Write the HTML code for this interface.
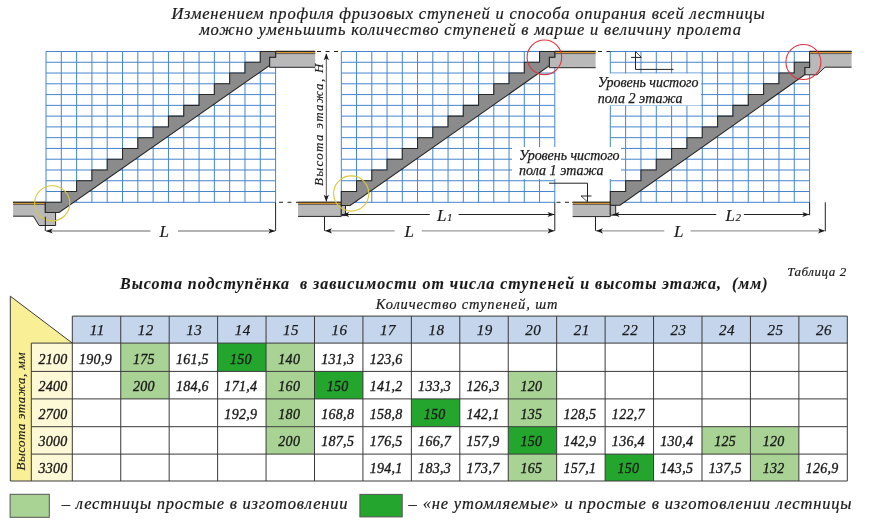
<!DOCTYPE html>
<html><head><meta charset="utf-8"><style>
html,body{margin:0;padding:0;background:#fff;width:872px;height:524px;overflow:hidden}
svg{display:block;will-change:transform}
</style></head><body>
<svg width="872" height="524" viewBox="0 0 872 524">
<rect width="872" height="524" fill="#fff"/>
<g stroke="#4585cc" stroke-width="1" fill="none">
<line x1="46" y1="51.5" x2="46" y2="202.3"/>
<line x1="61.31" y1="51.5" x2="61.31" y2="202.3"/>
<line x1="76.61" y1="51.5" x2="76.61" y2="202.3"/>
<line x1="91.92" y1="51.5" x2="91.92" y2="202.3"/>
<line x1="107.23" y1="51.5" x2="107.23" y2="202.3"/>
<line x1="122.53" y1="51.5" x2="122.53" y2="202.3"/>
<line x1="137.84" y1="51.5" x2="137.84" y2="202.3"/>
<line x1="153.15" y1="51.5" x2="153.15" y2="202.3"/>
<line x1="168.45" y1="51.5" x2="168.45" y2="202.3"/>
<line x1="183.76" y1="51.5" x2="183.76" y2="202.3"/>
<line x1="199.07" y1="51.5" x2="199.07" y2="202.3"/>
<line x1="214.37" y1="51.5" x2="214.37" y2="202.3"/>
<line x1="229.68" y1="51.5" x2="229.68" y2="202.3"/>
<line x1="244.99" y1="51.5" x2="244.99" y2="202.3"/>
<line x1="260.29" y1="51.5" x2="260.29" y2="202.3"/>
<line x1="275.6" y1="51.5" x2="275.6" y2="202.3"/>
<line x1="46" y1="51.5" x2="275.6" y2="51.5"/>
<line x1="46" y1="62.27" x2="275.6" y2="62.27"/>
<line x1="46" y1="73.04" x2="275.6" y2="73.04"/>
<line x1="46" y1="83.81" x2="275.6" y2="83.81"/>
<line x1="46" y1="94.59" x2="275.6" y2="94.59"/>
<line x1="46" y1="105.36" x2="275.6" y2="105.36"/>
<line x1="46" y1="116.13" x2="275.6" y2="116.13"/>
<line x1="46" y1="126.9" x2="275.6" y2="126.9"/>
<line x1="46" y1="137.67" x2="275.6" y2="137.67"/>
<line x1="46" y1="148.44" x2="275.6" y2="148.44"/>
<line x1="46" y1="159.21" x2="275.6" y2="159.21"/>
<line x1="46" y1="169.99" x2="275.6" y2="169.99"/>
<line x1="46" y1="180.76" x2="275.6" y2="180.76"/>
<line x1="46" y1="191.53" x2="275.6" y2="191.53"/>
<line x1="46" y1="202.3" x2="275.6" y2="202.3"/>
<line x1="341.3" y1="51.5" x2="341.3" y2="202.3"/>
<line x1="356.55" y1="51.5" x2="356.55" y2="202.3"/>
<line x1="371.8" y1="51.5" x2="371.8" y2="202.3"/>
<line x1="387.05" y1="51.5" x2="387.05" y2="202.3"/>
<line x1="402.3" y1="51.5" x2="402.3" y2="202.3"/>
<line x1="417.55" y1="51.5" x2="417.55" y2="202.3"/>
<line x1="432.8" y1="51.5" x2="432.8" y2="202.3"/>
<line x1="448.05" y1="51.5" x2="448.05" y2="202.3"/>
<line x1="463.3" y1="51.5" x2="463.3" y2="202.3"/>
<line x1="478.55" y1="51.5" x2="478.55" y2="202.3"/>
<line x1="493.8" y1="51.5" x2="493.8" y2="202.3"/>
<line x1="509.05" y1="51.5" x2="509.05" y2="202.3"/>
<line x1="524.3" y1="51.5" x2="524.3" y2="202.3"/>
<line x1="539.55" y1="51.5" x2="539.55" y2="202.3"/>
<line x1="554.8" y1="51.5" x2="554.8" y2="202.3"/>
<line x1="341.3" y1="51.5" x2="554.8" y2="51.5"/>
<line x1="341.3" y1="62.27" x2="554.8" y2="62.27"/>
<line x1="341.3" y1="73.04" x2="554.8" y2="73.04"/>
<line x1="341.3" y1="83.81" x2="554.8" y2="83.81"/>
<line x1="341.3" y1="94.59" x2="554.8" y2="94.59"/>
<line x1="341.3" y1="105.36" x2="554.8" y2="105.36"/>
<line x1="341.3" y1="116.13" x2="554.8" y2="116.13"/>
<line x1="341.3" y1="126.9" x2="554.8" y2="126.9"/>
<line x1="341.3" y1="137.67" x2="554.8" y2="137.67"/>
<line x1="341.3" y1="148.44" x2="554.8" y2="148.44"/>
<line x1="341.3" y1="159.21" x2="554.8" y2="159.21"/>
<line x1="341.3" y1="169.99" x2="554.8" y2="169.99"/>
<line x1="341.3" y1="180.76" x2="554.8" y2="180.76"/>
<line x1="341.3" y1="191.53" x2="554.8" y2="191.53"/>
<line x1="341.3" y1="202.3" x2="554.8" y2="202.3"/>
<line x1="610.3" y1="51.5" x2="610.3" y2="202.3"/>
<line x1="625.63" y1="51.5" x2="625.63" y2="202.3"/>
<line x1="640.96" y1="51.5" x2="640.96" y2="202.3"/>
<line x1="656.29" y1="51.5" x2="656.29" y2="202.3"/>
<line x1="671.62" y1="51.5" x2="671.62" y2="202.3"/>
<line x1="686.95" y1="51.5" x2="686.95" y2="202.3"/>
<line x1="702.28" y1="51.5" x2="702.28" y2="202.3"/>
<line x1="717.62" y1="51.5" x2="717.62" y2="202.3"/>
<line x1="732.95" y1="51.5" x2="732.95" y2="202.3"/>
<line x1="748.28" y1="51.5" x2="748.28" y2="202.3"/>
<line x1="763.61" y1="51.5" x2="763.61" y2="202.3"/>
<line x1="778.94" y1="51.5" x2="778.94" y2="202.3"/>
<line x1="794.27" y1="51.5" x2="794.27" y2="202.3"/>
<line x1="809.6" y1="51.5" x2="809.6" y2="202.3"/>
<line x1="610.3" y1="51.5" x2="809.6" y2="51.5"/>
<line x1="610.3" y1="62.27" x2="809.6" y2="62.27"/>
<line x1="610.3" y1="73.04" x2="809.6" y2="73.04"/>
<line x1="610.3" y1="83.81" x2="809.6" y2="83.81"/>
<line x1="610.3" y1="94.59" x2="809.6" y2="94.59"/>
<line x1="610.3" y1="105.36" x2="809.6" y2="105.36"/>
<line x1="610.3" y1="116.13" x2="809.6" y2="116.13"/>
<line x1="610.3" y1="126.9" x2="809.6" y2="126.9"/>
<line x1="610.3" y1="137.67" x2="809.6" y2="137.67"/>
<line x1="610.3" y1="148.44" x2="809.6" y2="148.44"/>
<line x1="610.3" y1="159.21" x2="809.6" y2="159.21"/>
<line x1="610.3" y1="169.99" x2="809.6" y2="169.99"/>
<line x1="610.3" y1="180.76" x2="809.6" y2="180.76"/>
<line x1="610.3" y1="191.53" x2="809.6" y2="191.53"/>
<line x1="610.3" y1="202.3" x2="809.6" y2="202.3"/>
</g>
<rect x="512" y="147" width="109" height="32" fill="#fff"/>
<rect x="590" y="73.5" width="111" height="32" fill="#fff"/>
<polygon points="13.1,202.3 45.3,202.3 45.3,212.4 55.6,212.4 55.6,225.5 39.1,225.5 33.4,216.2 13.1,216.2" fill="#b9b9b9"/>
<polyline points="13.1,202.3 45.3,202.3 45.3,212.4 55.6,212.4 55.6,225.5 39.1,225.5 33.4,216.2 13.1,216.2" fill="none" stroke="#262626" stroke-width="1"/>
<line x1="13.1" y1="202.3" x2="45.3" y2="202.3" stroke="#262626" stroke-width="1.3"/>
<line x1="13.6" y1="203.4" x2="44.8" y2="203.4" stroke="#e39b2d" stroke-width="1.1"/>
<line x1="13.1" y1="204.4" x2="45.3" y2="204.4" stroke="#444" stroke-width="0.8"/>
<polygon points="275.6,51.5 315.2,51.5 315.2,67.3 269.6,67.3 269.6,57.2 275.6,57.2" fill="#b9b9b9"/>
<polyline points="315.2,67.3 269.6,67.3 269.6,57.2 275.6,57.2 275.6,51.5 315.2,51.5" fill="none" stroke="#262626" stroke-width="1"/>
<line x1="275.6" y1="51.5" x2="315.2" y2="51.5" stroke="#262626" stroke-width="1.3"/>
<line x1="276.1" y1="52.6" x2="314.7" y2="52.6" stroke="#e39b2d" stroke-width="1.1"/>
<line x1="275.6" y1="53.6" x2="315.2" y2="53.6" stroke="#444" stroke-width="0.8"/>
<polygon points="298,202.3 341.3,202.3 341.3,216.4 298,216.4" fill="#b9b9b9"/>
<polyline points="298,202.3 341.3,202.3 341.3,216.4 298,216.4" fill="none" stroke="#262626" stroke-width="1"/>
<line x1="298" y1="202.3" x2="341.3" y2="202.3" stroke="#262626" stroke-width="1.3"/>
<line x1="298.5" y1="203.4" x2="340.8" y2="203.4" stroke="#e39b2d" stroke-width="1.1"/>
<line x1="298" y1="204.4" x2="341.3" y2="204.4" stroke="#444" stroke-width="0.8"/>
<polygon points="341.3,205.4 345.5,205.4 345.5,215.6 341.3,215.6" fill="#b9b9b9" stroke="#262626" stroke-width="1"/>
<polygon points="554.8,51.5 595.6,51.5 595.6,67.7 549.3,67.7 549.3,57.2 554.8,57.2" fill="#b9b9b9"/>
<polyline points="595.6,67.7 549.3,67.7 549.3,57.2 554.8,57.2 554.8,51.5 595.6,51.5" fill="none" stroke="#262626" stroke-width="1"/>
<line x1="554.8" y1="51.5" x2="595.6" y2="51.5" stroke="#262626" stroke-width="1.3"/>
<line x1="555.3" y1="52.6" x2="595.1" y2="52.6" stroke="#e39b2d" stroke-width="1.1"/>
<line x1="554.8" y1="53.6" x2="595.6" y2="53.6" stroke="#444" stroke-width="0.8"/>
<polygon points="572.6,202.3 610.3,202.3 610.3,216.6 572.6,216.6" fill="#b9b9b9"/>
<polyline points="572.6,202.3 610.3,202.3 610.3,216.6 572.6,216.6" fill="none" stroke="#262626" stroke-width="1"/>
<line x1="572.6" y1="202.3" x2="610.3" y2="202.3" stroke="#262626" stroke-width="1.3"/>
<line x1="573.1" y1="203.4" x2="609.8" y2="203.4" stroke="#e39b2d" stroke-width="1.1"/>
<line x1="572.6" y1="204.4" x2="610.3" y2="204.4" stroke="#444" stroke-width="0.8"/>
<polygon points="610.3,205.2 615.7,205.2 615.7,215.2 610.3,215.2" fill="#b9b9b9" stroke="#262626" stroke-width="1"/>
<polygon points="809.6,51.5 851.6,51.5 851.6,67.2 825,67.2 817,74.8 804.8,74.8 804.8,67.5 809.6,67.5" fill="#b9b9b9"/>
<polyline points="851.6,67.2 825,67.2 817,74.8 804.8,74.8 804.8,67.5 809.6,67.5 809.6,51.5 851.6,51.5" fill="none" stroke="#262626" stroke-width="1"/>
<line x1="809.6" y1="51.5" x2="851.6" y2="51.5" stroke="#262626" stroke-width="1.3"/>
<line x1="810.1" y1="52.6" x2="851.1" y2="52.6" stroke="#e39b2d" stroke-width="1.1"/>
<line x1="809.6" y1="53.6" x2="851.6" y2="53.6" stroke="#444" stroke-width="0.8"/>
<polygon points="45.3,212.4 45.3,202.3 61.31,202.3 61.31,191.53 76.61,191.53 76.61,180.76 91.92,180.76 91.92,169.99 107.23,169.99 107.23,159.21 122.53,159.21 122.53,148.44 137.84,148.44 137.84,137.67 153.15,137.67 153.15,126.9 168.45,126.9 168.45,116.13 183.76,116.13 183.76,105.36 199.07,105.36 199.07,94.59 214.37,94.59 214.37,83.81 229.68,83.81 229.68,73.04 244.99,73.04 244.99,62.27 260.29,62.27 260.29,51.5 275.6,51.5 275.6,57.2 269.6,57.2 269.6,65.4 59.1,212.4" fill="#8b8b8b" stroke="#262626" stroke-width="1.05" stroke-linejoin="miter"/>
<polygon points="341.3,205.4 341.3,205.4 341.3,191.53 356.55,191.53 356.55,180.76 371.8,180.76 371.8,169.99 387.05,169.99 387.05,159.21 402.3,159.21 402.3,148.44 417.55,148.44 417.55,137.67 432.8,137.67 432.8,126.9 448.05,126.9 448.05,116.13 463.3,116.13 463.3,105.36 478.55,105.36 478.55,94.59 493.8,94.59 493.8,83.81 509.05,83.81 509.05,73.04 524.3,73.04 524.3,62.27 539.55,62.27 539.55,51.5 554.8,51.5 554.8,57.2 549.3,57.2 549.3,65.8 350.1,205.4" fill="#8b8b8b" stroke="#262626" stroke-width="1.05" stroke-linejoin="miter"/>
<polygon points="610.3,205.2 610.3,205.2 610.3,191.53 625.63,191.53 625.63,180.76 640.96,180.76 640.96,169.99 656.29,169.99 656.29,159.21 671.62,159.21 671.62,148.44 686.95,148.44 686.95,137.67 702.28,137.67 702.28,126.9 717.62,126.9 717.62,116.13 732.95,116.13 732.95,105.36 748.28,105.36 748.28,94.59 763.61,94.59 763.61,83.81 778.94,83.81 778.94,73.04 794.27,73.04 794.27,62.27 809.6,62.27 809.6,67.5 804.8,67.5 804.8,74.8 620,205.2" fill="#8b8b8b" stroke="#262626" stroke-width="1.05" stroke-linejoin="miter"/>
<circle cx="52.2" cy="203.3" r="17.6" fill="none" stroke="#d9c83c" stroke-width="1.1"/>
<circle cx="351.2" cy="193.5" r="17.6" fill="none" stroke="#d9c83c" stroke-width="1.1"/>
<circle cx="544.4" cy="57.3" r="17.3" fill="none" stroke="#e2323f" stroke-width="1.1"/>
<circle cx="803.4" cy="62" r="17.5" fill="none" stroke="#e2323f" stroke-width="1.1"/>
<line x1="45.3" y1="216.7" x2="45.3" y2="231" stroke="#222" stroke-width="1"/>
<line x1="46" y1="231" x2="150.5" y2="231" stroke="#9a9a9a" stroke-width="1.3"/>
<line x1="178" y1="231" x2="275" y2="231" stroke="#9a9a9a" stroke-width="1.3"/>
<polygon points="45.8,231 52.8,228.4 51,231 52.8,233.6" fill="#1a1a1a"/>
<polygon points="275.3,231 268.3,228.4 270.1,231 268.3,233.6" fill="#1a1a1a"/>
<line x1="275.6" y1="202.3" x2="275.6" y2="231" stroke="#222" stroke-width="1"/>
<line x1="324.5" y1="216.4" x2="324.5" y2="230.8" stroke="#222" stroke-width="1"/>
<line x1="325" y1="230.8" x2="394.7" y2="230.8" stroke="#9a9a9a" stroke-width="1.3"/>
<line x1="421.8" y1="230.8" x2="554.5" y2="230.8" stroke="#9a9a9a" stroke-width="1.3"/>
<polygon points="325,230.8 332,228.2 330.2,230.8 332,233.4" fill="#1a1a1a"/>
<polygon points="554.5,230.8 547.5,228.2 549.3,230.8 547.5,233.4" fill="#1a1a1a"/>
<line x1="554.8" y1="202.3" x2="554.8" y2="230.8" stroke="#222" stroke-width="1"/>
<line x1="342" y1="214.5" x2="429.8" y2="214.5" stroke="#222" stroke-width="1.1"/>
<line x1="458.5" y1="214.5" x2="554.5" y2="214.5" stroke="#222" stroke-width="1.1"/>
<polygon points="342.2,214.5 349.2,211.9 347.4,214.5 349.2,217.1" fill="#1a1a1a"/>
<polygon points="554.5,214.5 547.5,211.9 549.3,214.5 547.5,217.1" fill="#1a1a1a"/>
<line x1="595.5" y1="216.6" x2="595.5" y2="230.8" stroke="#222" stroke-width="1"/>
<line x1="596" y1="230.8" x2="664.3" y2="230.8" stroke="#9a9a9a" stroke-width="1.3"/>
<line x1="690.6" y1="230.8" x2="824.5" y2="230.8" stroke="#9a9a9a" stroke-width="1.3"/>
<polygon points="596,230.8 603,228.2 601.2,230.8 603,233.4" fill="#1a1a1a"/>
<polygon points="825,230.8 818,228.2 819.8,230.8 818,233.4" fill="#1a1a1a"/>
<line x1="825.3" y1="202.3" x2="825.3" y2="231.3" stroke="#222" stroke-width="1"/>
<line x1="612.7" y1="214.5" x2="716.3" y2="214.5" stroke="#222" stroke-width="1.1"/>
<line x1="743.8" y1="214.5" x2="809.2" y2="214.5" stroke="#222" stroke-width="1.1"/>
<polygon points="612.5,214.5 619.5,211.9 617.7,214.5 619.5,217.1" fill="#1a1a1a"/>
<polygon points="809.3,214.5 802.3,211.9 804.1,214.5 802.3,217.1" fill="#1a1a1a"/>
<line x1="809.6" y1="202.3" x2="809.6" y2="215.3" stroke="#222" stroke-width="1"/>
<line x1="326.3" y1="54" x2="326.3" y2="201.5" stroke="#555" stroke-width="1"/>
<polygon points="326.3,53.2 323.7,60.2 326.3,58.4 328.9,60.2" fill="#1a1a1a"/>
<polygon points="326.3,201.7 323.7,194.7 326.3,196.5 328.9,194.7" fill="#1a1a1a"/>
<line x1="279" y1="202.3" x2="298" y2="202.3" stroke="#222" stroke-width="1" stroke-dasharray="4,4.5"/>
<line x1="317" y1="51.5" x2="341.3" y2="51.5" stroke="#222" stroke-width="1" stroke-dasharray="4,4.5"/>
<line x1="598" y1="51.5" x2="610.3" y2="51.5" stroke="#222" stroke-width="1" stroke-dasharray="4,4.5"/>
<line x1="556.5" y1="202.3" x2="572.6" y2="202.3" stroke="#222" stroke-width="1" stroke-dasharray="4,4.5"/>
<polyline points="549,183.2 587.5,183.2 587.5,201.8" fill="none" stroke="#222" stroke-width="1"/>
<polyline points="581,196 591.5,196" fill="none" stroke="#222" stroke-width="1"/>
<polyline points="581,196 587.5,201.8" fill="none" stroke="#222" stroke-width="0.8"/>
<polyline points="635.5,51.5 635.5,69.4 673.5,69.4" fill="none" stroke="#222" stroke-width="1"/>
<polyline points="631,57.4 641.4,57.4" fill="none" stroke="#222" stroke-width="1"/>
<polyline points="635.5,51.5 641.4,57.4" fill="none" stroke="#222" stroke-width="0.8"/>
<g font-family='"Liberation Serif", serif' stroke="#1a1a1a" stroke-width="0.3">
<text x="171.4" y="18.6" font-size="16.5" font-style="italic" font-weight="normal" text-anchor="start" fill="#1a1a1a" stroke-width="0.2" textLength="593.3" lengthAdjust="spacing" >Изменением профиля фризовых ступеней и способа опирания всей лестницы</text>
<text x="199.2" y="35" font-size="16.5" font-style="italic" font-weight="normal" text-anchor="start" fill="#1a1a1a" stroke-width="0.2" textLength="541.8" lengthAdjust="spacing" >можно уменьшить количество ступеней в марше и величину пролета</text>
<text x="518.9" y="160" font-size="14" font-style="italic" font-weight="normal" text-anchor="start" fill="#1a1a1a" stroke-width="0.25" textLength="100.7" lengthAdjust="spacing" >Уровень чистого</text>
<text x="518.9" y="175.3" font-size="14" font-style="italic" font-weight="normal" text-anchor="start" fill="#1a1a1a" stroke-width="0.25" textLength="84.6" lengthAdjust="spacing" >пола 1 этажа</text>
<text x="597.8" y="87.3" font-size="14" font-style="italic" font-weight="normal" text-anchor="start" fill="#1a1a1a" stroke-width="0.25" textLength="100.7" lengthAdjust="spacing" >Уровень чистого</text>
<text x="597.8" y="103" font-size="14" font-style="italic" font-weight="normal" text-anchor="start" fill="#1a1a1a" stroke-width="0.25" textLength="84.6" lengthAdjust="spacing" >пола 2 этажа</text>
<text x="159.5" y="237" font-size="17" font-style="italic" font-weight="normal" text-anchor="start" fill="#1a1a1a" stroke-width="0.15" >L</text>
<text x="404.5" y="237" font-size="17" font-style="italic" font-weight="normal" text-anchor="start" fill="#1a1a1a" stroke-width="0.15" >L</text>
<text x="674" y="237" font-size="17" font-style="italic" font-weight="normal" text-anchor="start" fill="#1a1a1a" stroke-width="0.15" >L</text>
<text x="437" y="221" font-size="17" font-style="italic" fill="#1a1a1a" stroke-width="0.15">L<tspan font-size="11" dx="0.5">1</tspan></text>
<text x="725.5" y="221" font-size="17" font-style="italic" fill="#1a1a1a" stroke-width="0.15">L<tspan font-size="11" dx="0.5">2</tspan></text>
<text transform="translate(322.8,186) rotate(-90)" font-size="13" stroke-width="0.15" font-style="italic" fill="#1a1a1a" textLength="122.5" lengthAdjust="spacing">Высота этажа, Н</text>
</g>
<polygon points="10.3,296.2 72.3,343.1 72.3,481 10.3,481" fill="#f9ef97"/>
<rect x="31.3" y="343.1" width="41" height="137.9" fill="#fdf9d6"/>
<rect x="72.3" y="316.1" width="775" height="27" fill="#c5d6ec"/>
<rect x="120.74" y="343.1" width="48.44" height="28.3" fill="#a9d394"/>
<rect x="217.61" y="343.1" width="48.44" height="28.3" fill="#23a52e"/>
<rect x="266.05" y="343.1" width="48.44" height="28.3" fill="#a9d394"/>
<rect x="120.74" y="371.4" width="48.44" height="27.5" fill="#a9d394"/>
<rect x="266.05" y="371.4" width="48.44" height="27.5" fill="#a9d394"/>
<rect x="314.49" y="371.4" width="48.44" height="27.5" fill="#23a52e"/>
<rect x="508.24" y="371.4" width="48.44" height="27.5" fill="#a9d394"/>
<rect x="266.05" y="398.9" width="48.44" height="27.8" fill="#a9d394"/>
<rect x="411.36" y="398.9" width="48.44" height="27.8" fill="#23a52e"/>
<rect x="508.24" y="398.9" width="48.44" height="27.8" fill="#a9d394"/>
<rect x="266.05" y="426.7" width="48.44" height="27.4" fill="#a9d394"/>
<rect x="508.24" y="426.7" width="48.44" height="27.4" fill="#23a52e"/>
<rect x="701.99" y="426.7" width="48.44" height="27.4" fill="#a9d394"/>
<rect x="750.42" y="426.7" width="48.44" height="27.4" fill="#a9d394"/>
<rect x="508.24" y="454.1" width="48.44" height="26.9" fill="#a9d394"/>
<rect x="605.11" y="454.1" width="48.44" height="26.9" fill="#23a52e"/>
<rect x="750.42" y="454.1" width="48.44" height="26.9" fill="#a9d394"/>
<g stroke="#3a3a3a" stroke-width="1" fill="none">
<polyline points="10.3,481 10.3,296.2 72.3,343.1"/>
<line x1="10.3" y1="481" x2="847.3" y2="481"/>
<line x1="31.3" y1="343.1" x2="31.3" y2="481"/>
<line x1="31.3" y1="343.1" x2="847.3" y2="343.1"/>
<line x1="31.3" y1="371.4" x2="847.3" y2="371.4"/>
<line x1="31.3" y1="398.9" x2="847.3" y2="398.9"/>
<line x1="31.3" y1="426.7" x2="847.3" y2="426.7"/>
<line x1="31.3" y1="454.1" x2="847.3" y2="454.1"/>
<line x1="72.3" y1="316.1" x2="847.3" y2="316.1"/>
<line x1="72.3" y1="316.1" x2="72.3" y2="481"/>
<line x1="120.74" y1="316.1" x2="120.74" y2="481"/>
<line x1="169.18" y1="316.1" x2="169.18" y2="481"/>
<line x1="217.61" y1="316.1" x2="217.61" y2="481"/>
<line x1="266.05" y1="316.1" x2="266.05" y2="481"/>
<line x1="314.49" y1="316.1" x2="314.49" y2="481"/>
<line x1="362.93" y1="316.1" x2="362.93" y2="481"/>
<line x1="411.36" y1="316.1" x2="411.36" y2="481"/>
<line x1="459.8" y1="316.1" x2="459.8" y2="481"/>
<line x1="508.24" y1="316.1" x2="508.24" y2="481"/>
<line x1="556.67" y1="316.1" x2="556.67" y2="481"/>
<line x1="605.11" y1="316.1" x2="605.11" y2="481"/>
<line x1="653.55" y1="316.1" x2="653.55" y2="481"/>
<line x1="701.99" y1="316.1" x2="701.99" y2="481"/>
<line x1="750.42" y1="316.1" x2="750.42" y2="481"/>
<line x1="798.86" y1="316.1" x2="798.86" y2="481"/>
<line x1="847.3" y1="316.1" x2="847.3" y2="481"/>
</g>
<g font-family='"Liberation Serif", serif' font-style="italic" font-size="14" fill="#1a1a1a" text-anchor="middle" stroke="#1a1a1a" stroke-width="0.35" letter-spacing="0.3">
<text x="97.32" y="335" font-size="15" stroke-width="0.25" letter-spacing="0.5">11</text>
<text x="145.76" y="335" font-size="15" stroke-width="0.25" letter-spacing="0.5">12</text>
<text x="194.19" y="335" font-size="15" stroke-width="0.25" letter-spacing="0.5">13</text>
<text x="242.63" y="335" font-size="15" stroke-width="0.25" letter-spacing="0.5">14</text>
<text x="291.07" y="335" font-size="15" stroke-width="0.25" letter-spacing="0.5">15</text>
<text x="339.51" y="335" font-size="15" stroke-width="0.25" letter-spacing="0.5">16</text>
<text x="387.94" y="335" font-size="15" stroke-width="0.25" letter-spacing="0.5">17</text>
<text x="436.38" y="335" font-size="15" stroke-width="0.25" letter-spacing="0.5">18</text>
<text x="484.82" y="335" font-size="15" stroke-width="0.25" letter-spacing="0.5">19</text>
<text x="533.26" y="335" font-size="15" stroke-width="0.25" letter-spacing="0.5">20</text>
<text x="581.69" y="335" font-size="15" stroke-width="0.25" letter-spacing="0.5">21</text>
<text x="630.13" y="335" font-size="15" stroke-width="0.25" letter-spacing="0.5">22</text>
<text x="678.57" y="335" font-size="15" stroke-width="0.25" letter-spacing="0.5">23</text>
<text x="727.01" y="335" font-size="15" stroke-width="0.25" letter-spacing="0.5">24</text>
<text x="775.44" y="335" font-size="15" stroke-width="0.25" letter-spacing="0.5">25</text>
<text x="823.88" y="335" font-size="15" stroke-width="0.25" letter-spacing="0.5">26</text>
<text x="53" y="363.6">2100</text>
<text x="53" y="391.1">2400</text>
<text x="53" y="418.9">2700</text>
<text x="53" y="446.3">3000</text>
<text x="53" y="473.2">3300</text>
<text x="95.52" y="363.6">190,9</text>
<text x="143.96" y="363.6">175</text>
<text x="192.39" y="363.6">161,5</text>
<text x="240.83" y="363.6">150</text>
<text x="289.27" y="363.6">140</text>
<text x="337.71" y="363.6">131,3</text>
<text x="386.14" y="363.6">123,6</text>
<text x="143.96" y="391.1">200</text>
<text x="192.39" y="391.1">184,6</text>
<text x="240.83" y="391.1">171,4</text>
<text x="289.27" y="391.1">160</text>
<text x="337.71" y="391.1">150</text>
<text x="386.14" y="391.1">141,2</text>
<text x="434.58" y="391.1">133,3</text>
<text x="483.02" y="391.1">126,3</text>
<text x="531.46" y="391.1">120</text>
<text x="240.83" y="418.9">192,9</text>
<text x="289.27" y="418.9">180</text>
<text x="337.71" y="418.9">168,8</text>
<text x="386.14" y="418.9">158,8</text>
<text x="434.58" y="418.9">150</text>
<text x="483.02" y="418.9">142,1</text>
<text x="531.46" y="418.9">135</text>
<text x="579.89" y="418.9">128,5</text>
<text x="628.33" y="418.9">122,7</text>
<text x="289.27" y="446.3">200</text>
<text x="337.71" y="446.3">187,5</text>
<text x="386.14" y="446.3">176,5</text>
<text x="434.58" y="446.3">166,7</text>
<text x="483.02" y="446.3">157,9</text>
<text x="531.46" y="446.3">150</text>
<text x="579.89" y="446.3">142,9</text>
<text x="628.33" y="446.3">136,4</text>
<text x="676.77" y="446.3">130,4</text>
<text x="725.21" y="446.3">125</text>
<text x="773.64" y="446.3">120</text>
<text x="386.14" y="473.2">194,1</text>
<text x="434.58" y="473.2">183,3</text>
<text x="483.02" y="473.2">173,7</text>
<text x="531.46" y="473.2">165</text>
<text x="579.89" y="473.2">157,1</text>
<text x="628.33" y="473.2">150</text>
<text x="676.77" y="473.2">143,5</text>
<text x="725.21" y="473.2">137,5</text>
<text x="773.64" y="473.2">132</text>
<text x="822.08" y="473.2">126,9</text>
</g>
<g font-family='"Liberation Serif", serif' fill="#1a1a1a" stroke="#1a1a1a" stroke-width="0.3">
<text x="120.1" y="288.5" font-size="16" font-style="italic" font-weight="bold" text-anchor="start" fill="#1a1a1a" stroke-width="0.1" textLength="647.4" lengthAdjust="spacing" style="white-space:pre">Высота подступёнка  в зависимости от числа ступеней и высоты этажа,  (мм)</text>
<text x="787.2" y="276" font-size="13" font-style="italic" font-weight="normal" text-anchor="start" fill="#1a1a1a" stroke-width="0.2" textLength="59" lengthAdjust="spacing" >Таблица 2</text>
<text x="375.7" y="309.3" font-size="14.5" font-style="italic" font-weight="normal" text-anchor="start" fill="#1a1a1a" stroke-width="0.2" textLength="181.8" lengthAdjust="spacing" >Количество ступеней, шт</text>
<text transform="translate(25,470.5) rotate(-90)" font-size="13" stroke-width="0.15" font-style="italic" fill="#1a1a1a" textLength="118" lengthAdjust="spacing">Высота этажа, мм</text>
<rect x="10.1" y="494.3" width="39.2" height="23" fill="#a9d394" stroke="#555" stroke-width="1"/>
<rect x="359.9" y="494.4" width="42.3" height="22.5" fill="#23a52e" stroke="#555" stroke-width="1"/>
<text x="61.8" y="509" font-size="16.5" font-style="italic" font-weight="normal" text-anchor="start" fill="#1a1a1a" stroke-width="0.22" textLength="285.7" lengthAdjust="spacing" >– лестницы простые в изготовлении</text>
<text x="408.6" y="509" font-size="16.5" font-style="italic" font-weight="normal" text-anchor="start" fill="#1a1a1a" stroke-width="0.22" textLength="442.9" lengthAdjust="spacing" >– «не утомляемые» и простые в изготовлении лестницы</text>
</g>
</svg>
</body></html>
